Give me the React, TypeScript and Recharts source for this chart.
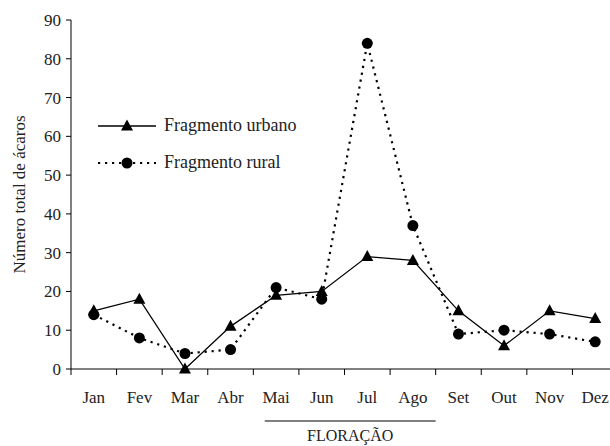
import { LineChart, Line, XAxis, YAxis, Legend } from "recharts"

const months = ["Jan", "Fev", "Mar", "Abr", "Mai", "Jun", "Jul", "Ago", "Set", "Out", "Nov", "Dez"]
const urbano = [15, 18, 0, 11, 19, 20, 29, 28, 15, 6, 15, 13]
const rural = [14, 8, 4, 5, 21, 18, 84, 37, 9, 10, 9, 7]
const yTicks = [0, 10, 20, 30, 40, 50, 60, 70, 80, 90]
const seriesNames = ["Fragmento urbano", "Fragmento rural"]
const floweringMonths = ["Mai", "Ago"]

const data = months.map((m, i) => ({ month: m, urbano: urbano[i], rural: rural[i] }))

const FONT = "'Liberation Serif', 'Times New Roman', Tinos, 'DejaVu Serif', serif"
const W = 630
const H = 446
const AXIS_W = 71
const X_AXIS_H = 30
const MARGIN = { top: 20, right: 12, left: 0, bottom: 47 }
const plotW = W - AXIS_W - MARGIN.left - MARGIN.right
const plotH = H - MARGIN.top - MARGIN.bottom - X_AXIS_H
const band = plotW / months.length

const Triangle = ({ cx, cy }: { cx?: number; cy?: number }) => {
  if (cx == null || cy == null) return null
  return <path d={`M${cx},${cy - 6.5} L${cx - 6},${cy + 4.5} L${cx + 6},${cy + 4.5} Z`} fill="#000" />
}

// month label centred in its band, tick mark on the band's left edge
const MonthTick = (props: any) => {
  const { x, y, payload } = props
  const half = payload?.offset ?? band / 2
  return (
    <g>
      <line x1={x - half} x2={x - half} y1={y} y2={y + 6} stroke="#000" strokeWidth={1} />
      <text x={x} y={y + 34} textAnchor="middle" style={{ fontFamily: FONT }} fontSize={17} fill="#222">
        {payload.value}
      </text>
    </g>
  )
}

const LegendBox = () => (
  <div style={{ fontFamily: FONT, fontSize: 18, color: "#222", lineHeight: "37px" }}>
    {seriesNames.map((name, i) => (
      <div key={name} style={{ display: "flex", alignItems: "center", height: 37 }}>
        <svg width={62} height={14} style={{ marginRight: 5 }}>
          {i === 0 ? (
            <>
              <line x1={1} x2={59} y1={7} y2={7} stroke="#000" strokeWidth={1.3} />
              <Triangle cx={30} cy={7} />
            </>
          ) : (
            <>
              <line x1={1} x2={59} y1={7} y2={7} stroke="#000" strokeWidth={2.2} strokeDasharray="2.2 4.8" />
              <circle cx={30} cy={7} r={5.5} fill="#000" />
            </>
          )}
        </svg>
        <span>{name}</span>
      </div>
    ))}
  </div>
)

export default function App() {
  const lineStart = AXIS_W + band * (months.indexOf(floweringMonths[0]) + 0.25)
  const lineEnd = AXIS_W + band * (months.indexOf(floweringMonths[1]) + 1)
  const labelX = 19
  const labelY = MARGIN.top + plotH / 2
  return (
    <div
      style={{
        position: "fixed",
        left: 0,
        top: 0,
        width: 610,
        height: 446,
        overflow: "hidden",
        background: "#fff",
        fontFamily: FONT,
      }}
    >
      <LineChart width={W} height={H} data={data} margin={MARGIN}>
        <XAxis
          dataKey="month"
          scale="band"
          stroke="#000"
          tickLine={false}
          tickSize={0}
          tickMargin={0}
          interval={0}
          height={X_AXIS_H}
          tick={<MonthTick />}
        />
        <YAxis
          width={AXIS_W}
          domain={[0, 90]}
          ticks={yTicks}
          stroke="#000"
          tickSize={5}
          tickMargin={5}
          tick={{ fill: "#222", fontSize: 17, style: { fontFamily: FONT } }}
        />
        <Legend
          layout="vertical"
          align="center"
          verticalAlign="middle"
          wrapperStyle={{ left: 97, top: 107, width: "auto" }}
          content={<LegendBox />}
        />
        <Line
          dataKey="urbano"
          name={seriesNames[0]}
          stroke="#000"
          strokeWidth={1.3}
          dot={(p: any) => <Triangle key={`u-${p.index}`} cx={p.cx} cy={p.cy} />}
          activeDot={false}
          isAnimationActive={false}
        />
        <Line
          dataKey="rural"
          name={seriesNames[1]}
          stroke="#000"
          strokeWidth={2.2}
          strokeDasharray="2.2 4.8"
          dot={{ r: 5.5, fill: "#000", stroke: "none" }}
          activeDot={false}
          isAnimationActive={false}
        />
      </LineChart>
      <svg width={610} height={446} style={{ position: "absolute", left: 0, top: 0, pointerEvents: "none" }}>
        <text
          x={labelX}
          y={labelY}
          transform={`rotate(-90, ${labelX}, ${labelY})`}
          textAnchor="middle"
          dominantBaseline="central"
          style={{ fontFamily: FONT }}
          fontSize={17}
          fill="#222"
        >
          Número total de ácaros
        </text>
        <line x1={lineStart} x2={lineEnd} y1={421} y2={421} stroke="#000" strokeWidth={1.2} />
        <text
          x={(lineStart + lineEnd) / 2}
          y={441}
          textAnchor="middle"
          style={{ fontFamily: FONT }}
          fontSize={16}
          fill="#222"
        >
          FLORAÇÃO
        </text>
      </svg>
    </div>
  )
}
